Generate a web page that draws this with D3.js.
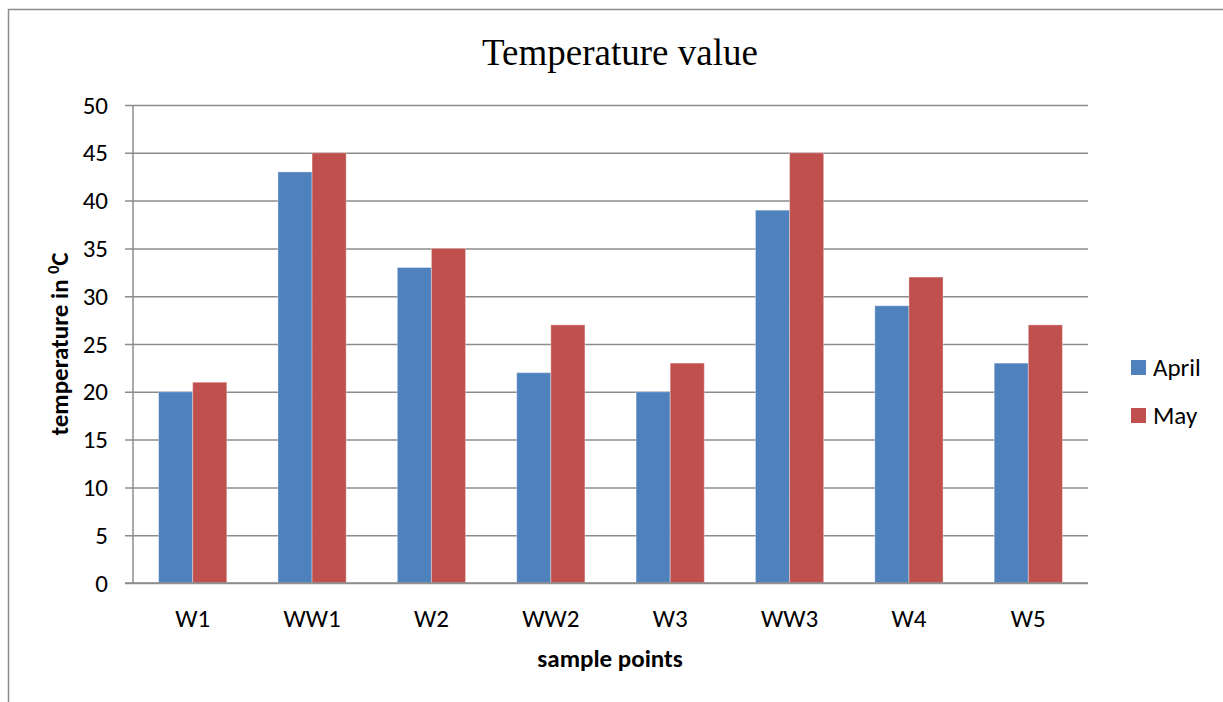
<!DOCTYPE html>
<html lang="en">
<head>
    <meta charset="UTF-8">
    <title>Temperature value</title>
    <script src="https://d3js.org/d3.v7.min.js"></script>
    <style>
        body { margin: 0; background: #fff; }
        svg { display: block; }
    </style>
</head>
<body>
<svg width="1223" height="702"></svg>
<script>
    // data
    var samplePoints = ["W1", "WW1", "W2", "WW2", "W3", "WW3", "W4", "W5"];
    var seriesNames = ["April", "May"];
    var april = [20, 43, 33, 22, 20, 39, 29, 23];
    var may = [21, 45, 35, 27, 23, 45, 32, 27];
    var yTicks = [0, 5, 10, 15, 20, 25, 30, 35, 40, 45, 50];
    var colors = ["#4f81bd", "#c0504d"];

    var svg = d3.select("svg"),
        sans = "Carlito, 'Liberation Sans', Arial, sans-serif";

    var plotLeft = 133, plotRight = 1088, plotTop = 105, plotBottom = 583;

    // chart frame
    svg.append("path")
        .attr("d", "M8.5,702V9.5H1223")
        .attr("fill", "none")
        .attr("stroke", "#8c8c8c")
        .attr("stroke-width", 1.5);

    var x = d3.scaleBand()
        .domain(samplePoints)
        .range([plotLeft, plotRight]);

    var x1 = d3.scaleBand()
        .domain(seriesNames)
        .range([0, x.bandwidth()])
        .paddingInner(0)
        .paddingOuter(0.75);

    var y = d3.scaleLinear()
        .domain([0, 50])
        .range([plotBottom, plotTop]);

    // gridlines + ticks
    svg.append("g")
        .attr("transform", "translate(" + plotLeft + ",0)")
        .call(d3.axisLeft(y).tickValues(yTicks).tickSize(-(plotRight - plotLeft)).tickSizeOuter(0).tickPadding(25))
        .call(function(g) {
            g.select(".domain").remove();
            g.selectAll(".tick line").attr("stroke", "#8c8c8c").attr("stroke-width", 1.5).attr("x1", -8);
            g.selectAll(".tick text")
                .attr("font-family", sans)
                .attr("font-size", 25)
                .attr("fill", "#000");
        });

    var rows = samplePoints.map(function(p, i) {
        return { point: p, values: [april[i], may[i]] };
    });

    svg.append("g")
        .selectAll("g")
        .data(rows)
        .join("g")
        .attr("transform", function(d) { return "translate(" + x(d.point) + ",0)"; })
        .selectAll("rect")
        .data(function(d) {
            return d.values.map(function(v, j) { return { key: seriesNames[j], value: v }; });
        })
        .join("rect")
        .attr("x", function(d) { return x1(d.key); })
        .attr("width", x1.bandwidth())
        .attr("y", function(d) { return y(d.value); })
        .attr("height", function(d) { return y(0) - y(d.value); })
        .attr("fill", function(d, j) { return colors[j]; })
        .attr("stroke", "rgba(255,255,255,0.35)")
        .attr("stroke-width", 1);

    // axes lines
    svg.append("line")
        .attr("x1", plotLeft).attr("x2", plotLeft)
        .attr("y1", plotTop).attr("y2", plotBottom)
        .attr("stroke", "#8c8c8c").attr("stroke-width", 1.5);

    svg.append("line")
        .attr("x1", plotLeft - 8).attr("x2", plotRight)
        .attr("y1", plotBottom).attr("y2", plotBottom)
        .attr("stroke", "#8c8c8c").attr("stroke-width", 1.5);

    // x labels
    svg.append("g")
        .selectAll("text")
        .data(samplePoints)
        .join("text")
        .attr("x", function(d) { return x(d) + x.bandwidth() / 2; })
        .attr("y", 627)
        .attr("text-anchor", "middle")
        .attr("font-family", sans)
        .attr("font-size", 25)
        .text(function(d) { return d; });

    // titles
    svg.append("text")
        .attr("x", 620)
        .attr("y", 65)
        .attr("text-anchor", "middle")
        .attr("font-family", "'Liberation Serif', 'Times New Roman', serif")
        .attr("font-size", 37)
        .text("Temperature value");

    svg.append("text")
        .attr("x", 610)
        .attr("y", 667)
        .attr("text-anchor", "middle")
        .attr("font-family", sans)
        .attr("font-size", 25)
        .attr("font-weight", "bold")
        .text("sample points");

    var yLabel = svg.append("text")
        .attr("transform", "translate(68,344)rotate(-90)")
        .attr("text-anchor", "middle")
        .attr("font-family", sans)
        .attr("font-size", 25)
        .attr("font-weight", "bold");
    yLabel.append("tspan").text("temperature in ");
    yLabel.append("tspan").attr("dy", -9).attr("font-size", 16).text("0");
    yLabel.append("tspan").attr("dy", 9).text("C");

    // legend
    var legend = svg.append("g")
        .selectAll("g")
        .data(seriesNames)
        .join("g")
        .attr("transform", function(d, i) { return "translate(1131," + (360 + i * 48) + ")"; });

    legend.append("rect")
        .attr("width", 15)
        .attr("height", 15)
        .attr("fill", function(d, i) { return colors[i]; });

    legend.append("text")
        .attr("x", 22)
        .attr("y", 16)
        .attr("font-family", sans)
        .attr("font-size", 25)
        .text(function(d) { return d; });
</script>
</body>
</html>
